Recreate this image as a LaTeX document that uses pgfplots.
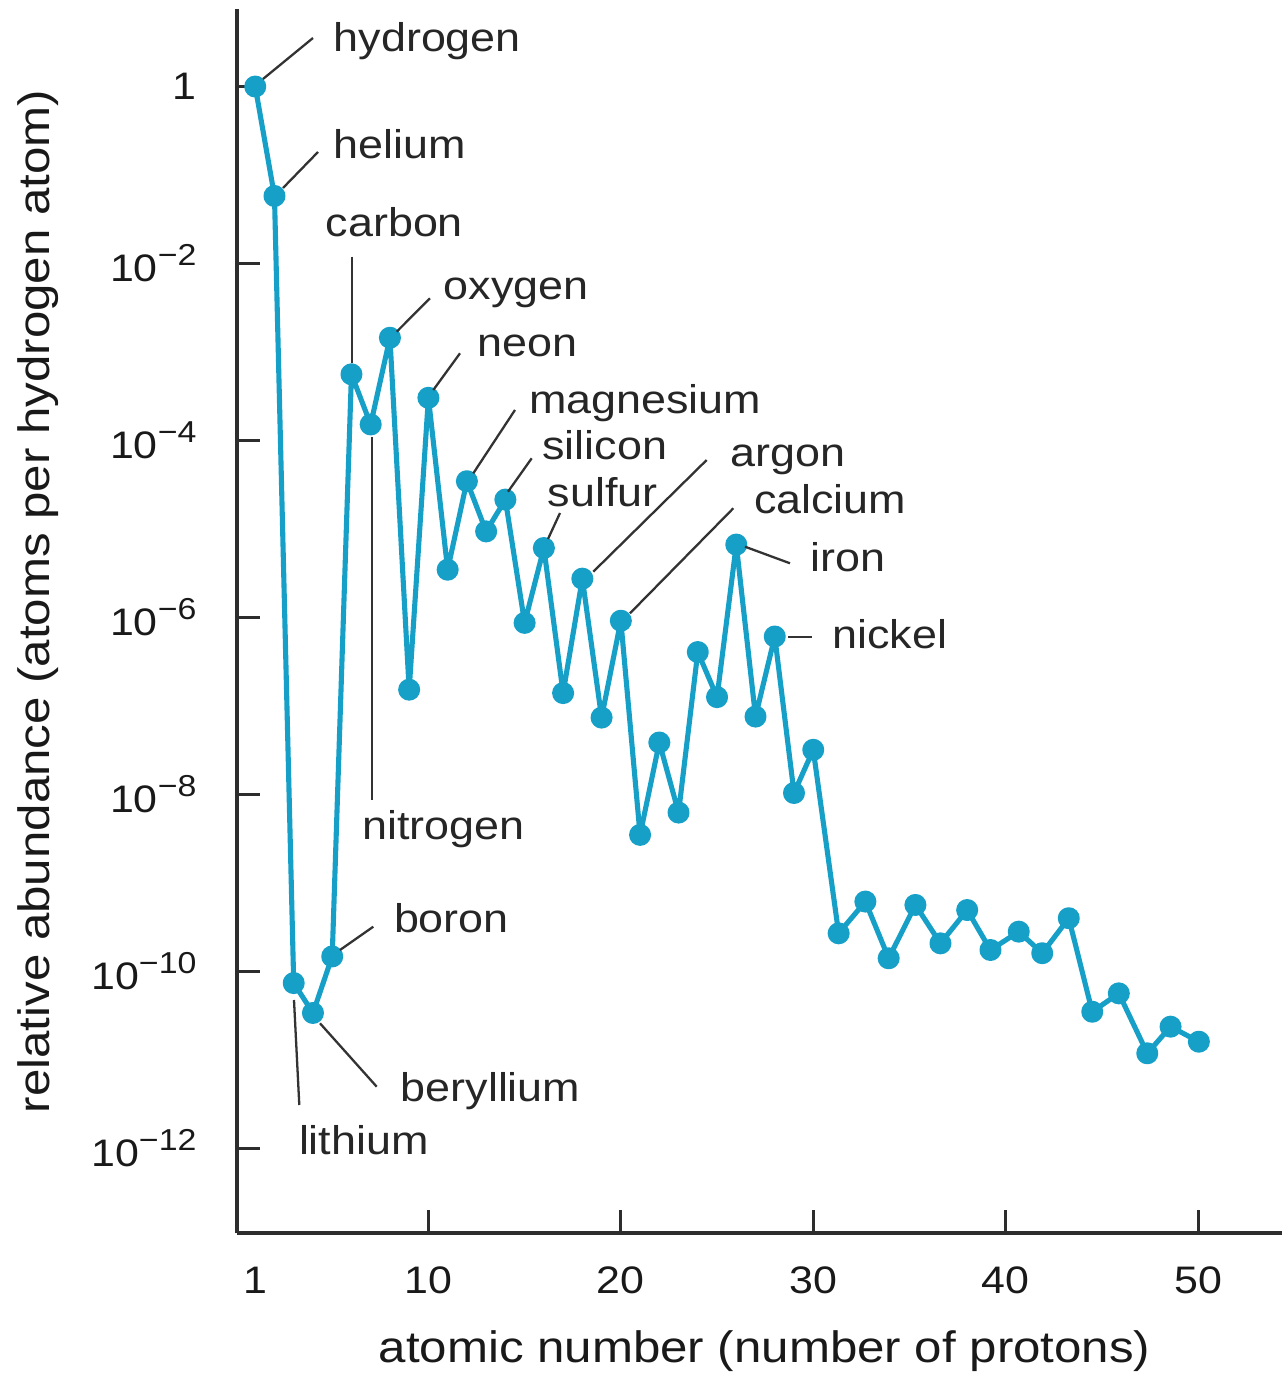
\documentclass[border=0pt]{standalone}
\usepackage{fontspec}
\setmainfont{Liberation Sans}[FakeStretch=1.12]
\usepackage{pgfplots}
\usepackage{pgfplotstable}
\pgfplotsset{compat=1.18}

\definecolor{linecyan}{RGB}{22,160,200}
\definecolor{axisgray}{RGB}{45,45,45}

\newcommand{\tenpow}[1]{10\raisebox{0.42em}{\fontsize{8.6}{9}\selectfont #1}}

% relative abundance, atoms per hydrogen atom
\pgfplotstableread{
z abund
1 1.0
2 5.8e-2
3 7.4e-11
4 3.4e-11
5 1.48e-10
6 5.6e-4
7 1.52e-4
8 1.45e-3
9 1.53e-7
10 3.04e-4
11 3.47e-6
12 3.47e-5
13 9.4e-6
14 2.15e-5
15 8.7e-7
16 6.1e-6
17 1.40e-7
18 2.75e-6
19 7.4e-8
20 9.2e-7
21 3.5e-9
22 3.87e-8
23 6.25e-9
24 4.07e-7
25 1.26e-7
26 6.67e-6
27 7.6e-8
28 6.1e-7
29 1.04e-8
30 3.2e-8
31.32 2.70e-10
32.71 6.17e-10
33.92 1.41e-10
35.31 5.65e-10
36.61 2.08e-10
38.00 4.95e-10
39.21 1.75e-10
40.68 2.82e-10
41.90 1.61e-10
43.28 4.0e-10
44.50 3.51e-11
45.88 5.66e-11
47.36 1.19e-11
48.57 2.38e-11
50.04 1.61e-11
}\abundtable

\begin{document}
\begin{tikzpicture}
\begin{axis}[
    scale only axis,
    width=10.44cm, height=12.24cm,
    xmin=0.052, xmax=54.34,
    ymode=log, ymin=1.1e-13, ymax=7.6,
    axis lines=left,
    axis line style={-, line width=1.1pt, axisgray},
    tick align=inside,
    major tick length=0.23cm,
    tick style={line width=0.9pt, axisgray},
    xminorticks=false, yminorticks=false,
    xtick={10,20,30,40,50},
    xticklabels={10,20,30,40,50},
    extra x ticks={1},
    extra x tick labels={1},
    extra x tick style={major tick length=0pt},
    ytick={1,1e-2,1e-4,1e-6,1e-8,1e-10,1e-12},
    yticklabels={1,\tenpow{−2},\tenpow{−4},\tenpow{−6},\tenpow{−8},\tenpow{−10},\tenpow{−12}},
    ticklabel style={font=\fontsize{10.9}{12}\selectfont, text=black!90},
    yticklabel style={xshift=-8pt},
    xticklabel style={yshift=-6pt},
    xlabel={atomic number (number of protons)},
    ylabel={relative abundance (atoms per hydrogen atom)},
    label style={font=\fontsize{12.5}{14}\selectfont, text=black!90},
    xlabel style={at={(rel axis cs:0.505,0)}, anchor=base, yshift=-1.29cm},
    ylabel style={at={(rel axis cs:-0.1906,0.516)}, anchor=center},
    clip=false,
]
\addplot[color=linecyan, line width=1.45pt, line join=round, mark=*, mark size=2.4pt,
         mark options={fill=linecyan, draw=linecyan, line join=round}]
    table[x=z, y=abund] {\abundtable};
\coordinate (BL) at (rel axis cs:0,0);
\end{axis}

% annotations, in pixel units of the reference (origin top left)
\begin{scope}[shift={(BL)}, x=0.01cm, y=-0.01cm, shift={(-237,-1233.3)}]
  \begin{scope}[line width=0.65pt, draw=black!80]
    \draw (263,79) -- (313,38);
    \draw (283,188) -- (318,152);
    \draw (352.3,256.7) -- (352.3,363.3);
    \draw (371.7,437) -- (371.7,800);
    \draw (396.7,331.7) -- (430,298.3);
    \draw (433.3,390) -- (460,353.3);
    \draw (473.3,473.3) -- (515,410);
    \draw (508,491.7) -- (531.7,458.3);
    \draw (548,539) -- (560,513);
    \draw (593.3,571.7) -- (706.7,460);
    \draw (630,613.3) -- (733.3,508.3);
    \draw (745,546.7) -- (790,563.3);
    \draw (788.3,637.3) -- (811.7,637.3);
    \draw (340,950) -- (373.3,926.7);
    \draw (320,1023.3) -- (376.7,1086.7);
    \draw (294,1000) -- (299.3,1105);
  \end{scope}
  \begin{scope}[every node/.style={anchor=base west, inner sep=0pt,
        font=\fontsize{11.4}{13}\selectfont, text=black!85}]
    \node at (333,51.7) {hydrogen};
    \node at (333,158.3) {helium};
    \node at (325,236.7) {carbon};
    \node at (361.7,840) {nitrogen};
    \node at (443,300) {oxygen};
    \node at (476.7,356.7) {neon};
    \node at (528.3,413.3) {magnesium};
    \node at (541.7,460) {silicon};
    \node at (547,506.7) {sulfur};
    \node at (730,466.7) {argon};
    \node at (753.3,513.3) {calcium};
    \node at (810,571.7) {iron};
    \node at (831.7,648.3) {nickel};
    \node at (393.3,932.7) {boron};
    \node at (400,1101.7) {beryllium};
    \node at (298.3,1155) {lithium};
  \end{scope}
  \pgfresetboundingbox
  \path (0,0) rectangle (1281,1375);
\end{scope}
\end{tikzpicture}
\end{document}
